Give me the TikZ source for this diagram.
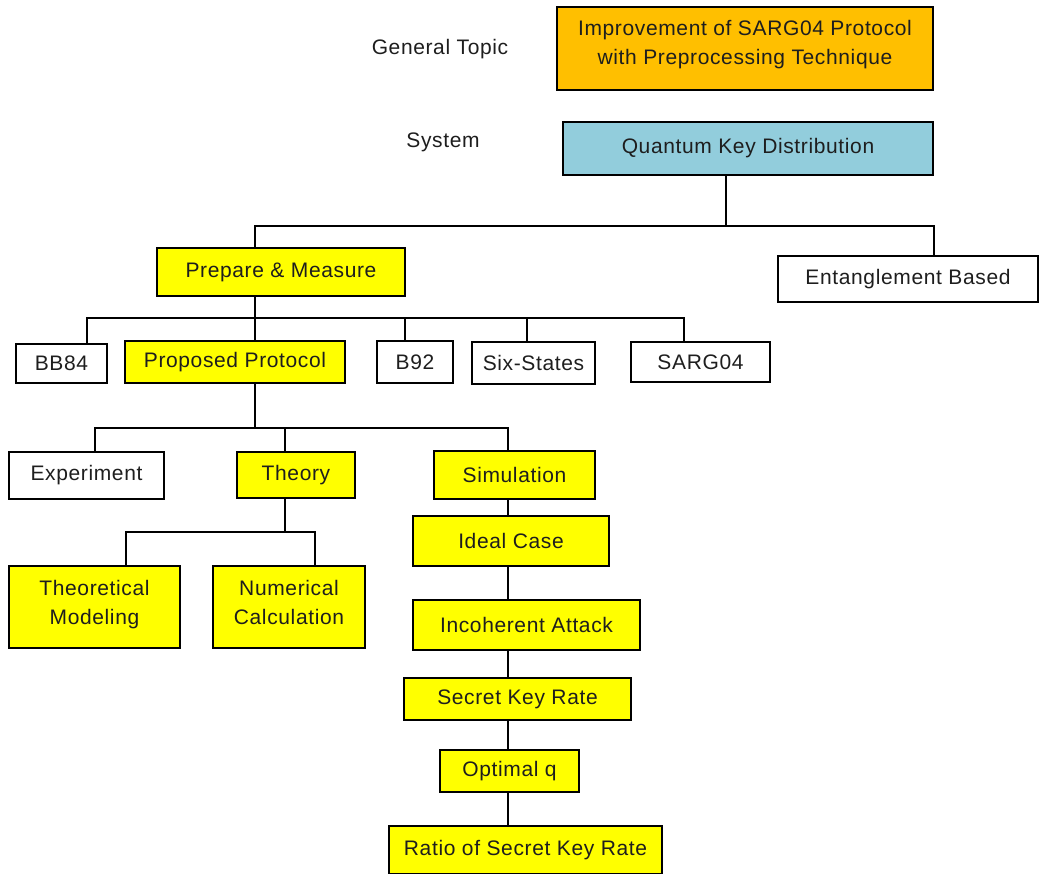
\documentclass[tikz,border=0pt]{standalone}
\usepackage{fontspec}
\setmainfont[LetterSpace=3]{Liberation Sans}
\definecolor{boxyellow}{HTML}{FFFF00}
\definecolor{boxorange}{HTML}{FFBF00}
\definecolor{boxblue}{HTML}{92CDDC}
\definecolor{txt}{HTML}{1E1E1E}
\begin{document}
\begin{tikzpicture}[x=1pt,y=-1pt,
  box/.style={draw=black, line width=2.7pt, inner sep=0pt, align=center, text=txt,
    font=\fontsize{21}{28.5}\selectfont},
  yel/.style={box, fill=boxyellow},
  wht/.style={box, fill=white},
  lbl/.style={text=txt, font=\fontsize{21}{26}\selectfont},
  conn/.style={draw=black, line width=1.3pt}]
\useasboundingbox (0,0) rectangle (1046,874);
\fill[white] (0,0) rectangle (1046,874);

% labels
\node[lbl] (gt) at (440,49) {General Topic};
\node[lbl] (sys) at (443,142) {System};

% boxes
\node[box, fill=boxorange, minimum width=376pt, minimum height=83pt, text depth=12pt] (top) at (745,48.5) {Improvement of SARG04 Protocol\\with Preprocessing Technique};
\node[box, fill=boxblue, minimum width=370pt, minimum height=53pt] (qkd) at (748,148.5) {Quantum Key Distribution};
\node[yel, minimum width=248pt, minimum height=48pt] (pm) at (281,272) {Prepare \& Measure};
\node[wht, minimum width=260pt, minimum height=46pt] (ent) at (908,279) {Entanglement Based};
\node[wht, minimum width=91pt, minimum height=39pt] (bb84) at (61.5,363.5) {BB84};
\node[yel, minimum width=220pt, minimum height=42pt] (pp) at (235,362) {Proposed Protocol};
\node[wht, minimum width=76pt, minimum height=42pt] (b92) at (415,362) {B92};
\node[wht, minimum width=123pt, minimum height=42pt] (six) at (533.5,363) {Six-States};
\node[wht, minimum width=139pt, minimum height=40pt] (sarg) at (700.5,362) {SARG04};
\node[wht, minimum width=155pt, minimum height=47pt] (exp) at (86.5,475.5) {Experiment};
\node[yel, minimum width=118pt, minimum height=46pt] (th) at (296,475) {Theory};
\node[yel, minimum width=161pt, minimum height=48pt] (sim) at (514.5,475) {Simulation};
\node[yel, minimum width=171pt, minimum height=82pt, text depth=9pt] (tm) at (94.5,607) {Theoretical\\Modeling};
\node[yel, minimum width=152pt, minimum height=82pt, text depth=9pt] (nc) at (289,607) {Numerical\\Calculation};
\node[yel, minimum width=196pt, minimum height=50pt] (ideal) at (511,541) {Ideal Case};
\node[yel, minimum width=227pt, minimum height=50pt] (inc) at (526.5,625) {Incoherent Attack};
\node[yel, minimum width=227pt, minimum height=42pt] (skr) at (517.5,699) {Secret Key Rate};
\node[yel, minimum width=139pt, minimum height=42pt] (opt) at (509.5,771) {Optimal q};
\node[yel, minimum width=273pt, minimum height=48pt] (ratio) at (525.5,850) {Ratio of Secret Key Rate};

% bus coordinates
\coordinate (b1L) at (255,226);
\coordinate (b1M) at (726,226);
\coordinate (b1R) at (934,226);
\coordinate (b2a) at (87,318);
\coordinate (b2b) at (255,318);
\coordinate (b2c) at (405,318);
\coordinate (b2d) at (527,318);
\coordinate (b2e) at (684,318);
\coordinate (b3a) at (95,428);
\coordinate (b3m) at (255,428);
\coordinate (b3b) at (285,428);
\coordinate (b3c) at (508,428);
\coordinate (b4a) at (126,532);
\coordinate (b4m) at (285,532);
\coordinate (b4b) at (315,532);
\coordinate (chx) at (508,0);

% connectors
\draw[conn] (qkd.south -| b1M) -- (b1M);
\draw[conn] (pm.north -| b1L) -- (b1L) -- (b1R) -- (ent.north -| b1R);
\draw[conn] (pm.south -| b2b) -- (pp.north -| b2b);
\draw[conn] (bb84.north -| b2a) -- (b2a) -- (b2e) -- (sarg.north -| b2e);
\draw[conn] (b92.north -| b2c) -- (b2c);
\draw[conn] (six.north -| b2d) -- (b2d);
\draw[conn] (pp.south -| b3m) -- (b3m);
\draw[conn] (exp.north -| b3a) -- (b3a) -- (b3c) -- (sim.north -| b3c);
\draw[conn] (th.north -| b3b) -- (b3b);
\draw[conn] (th.south -| b4m) -- (b4m);
\draw[conn] (tm.north -| b4a) -- (b4a) -- (b4b) -- (nc.north -| b4b);
\draw[conn] (sim.south -| chx) -- (ideal.north -| chx);
\draw[conn] (ideal.south -| chx) -- (inc.north -| chx);
\draw[conn] (inc.south -| chx) -- (skr.north -| chx);
\draw[conn] (skr.south -| chx) -- (opt.north -| chx);
\draw[conn] (opt.south -| chx) -- (ratio.north -| chx);
\end{tikzpicture}
\end{document}
